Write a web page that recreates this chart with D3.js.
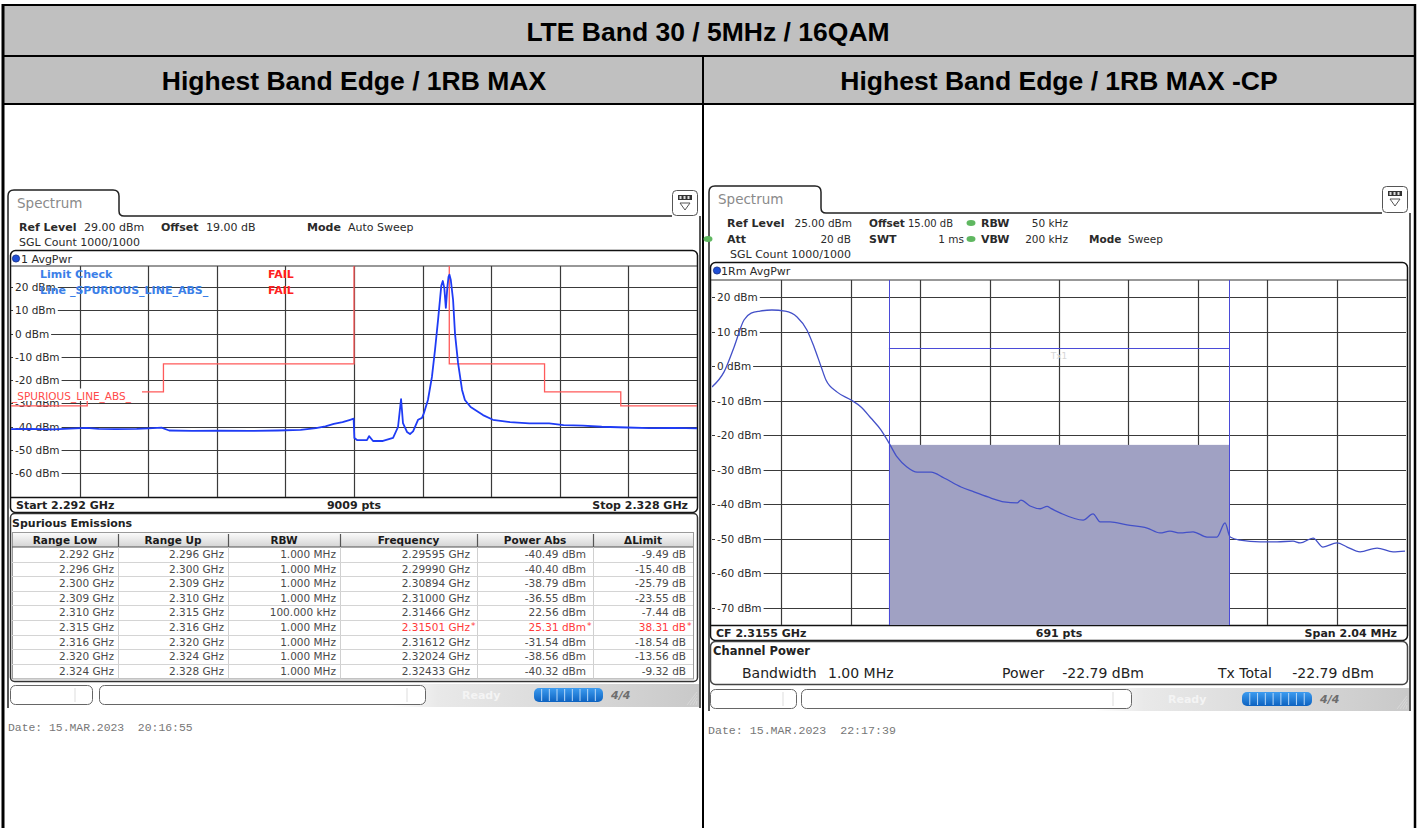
<!DOCTYPE html>
<html><head><meta charset="utf-8">
<script src="https://cdn.jsdelivr.net/npm/d3@7"></script>
<style>html,body{margin:0;padding:0;background:#fff;}svg{display:block;}text{white-space:pre;}</style>
</head><body><div id="chart"></div>
<script>
// ---------------- data ----------------
const titleText = "LTE Band 30 / 5MHz / 16QAM";
const panelTitles = ["Highest Band Edge / 1RB MAX", "Highest Band Edge / 1RB MAX -CP"];

// Left: spurious emission sweep (MHz, dBm)
const leftFreqMHz = [2292.00,2293.00,2294.20,2295.10,2295.95,2296.60,2297.50,2298.60,2299.20,2299.90,
  2300.30,2301.50,2303.00,2304.50,2306.00,2307.20,2308.00,2308.50,2308.94,2309.40,2309.80,2309.98,
  2310.02,2310.16,2310.68,2310.79,2311.00,2311.52,2312.05,2312.31,2312.47,2312.57,2312.78,2312.94,
  2313.10,2313.36,2313.57,2313.67,2313.88,2314.09,2314.25,2314.41,2314.51,2314.58,2314.66,2314.74,
  2314.82,2314.90,2314.96,2315.01,2315.08,2315.20,2315.30,2315.46,2315.67,2315.82,2316.12,2316.77,
  2317.29,2318.19,2319.20,2320.24,2321.00,2322.02,2323.00,2324.33,2325.50,2326.80,2328.00];
const leftPowerDbm = [-41.0,-40.9,-41.1,-40.8,-40.49,-40.9,-41.0,-40.9,-40.7,-40.40,
  -41.6,-41.8,-41.7,-41.8,-41.6,-41.3,-40.6,-39.8,-38.79,-38.0,-37.0,-36.55,
  -44.8,-45.7,-45.7,-44.0,-46.1,-46.1,-44.8,-40.1,-28.1,-38.4,-42.2,-43.1,
  -42.0,-37.0,-36.2,-34.1,-28.5,-18.6,-7.1,5.8,14.4,20.5,22.56,19.5,
  11.0,20.0,24.3,25.31,23.0,14.4,0.0,-12.6,-24.2,-28.5,-31.54,-35.0,
  -37.0,-38.0,-38.5,-38.56,-39.3,-39.5,-40.0,-40.32,-40.6,-40.5,-40.7];
const leftLimitEdgesMHz = [2292,2296,2300,2310,2315,2320,2324,2328];
const leftLimitDbm = [-31,-25,-13,30,-13,-25,-31];
const leftYTicks = [20,10,0,-10,-20,-30,-40,-50,-60,-70];
const leftYLabels = [20,10,0,-10,-20,-30,-40,-50,-60];

// Spurious emissions table
const spurRangeLow = ["2.292 GHz","2.296 GHz","2.300 GHz","2.309 GHz","2.310 GHz","2.315 GHz","2.316 GHz","2.320 GHz","2.324 GHz"];
const spurRangeUp  = ["2.296 GHz","2.300 GHz","2.309 GHz","2.310 GHz","2.315 GHz","2.316 GHz","2.320 GHz","2.324 GHz","2.328 GHz"];
const spurRbw      = ["1.000 MHz","1.000 MHz","1.000 MHz","1.000 MHz","100.000 kHz","1.000 MHz","1.000 MHz","1.000 MHz","1.000 MHz"];
const spurFreq     = ["2.29595 GHz","2.29990 GHz","2.30894 GHz","2.31000 GHz","2.31466 GHz","2.31501 GHz*","2.31612 GHz","2.32024 GHz","2.32433 GHz"];
const spurPower    = ["-40.49 dBm","-40.40 dBm","-38.79 dBm","-36.55 dBm","22.56 dBm","25.31 dBm*","-31.54 dBm","-38.56 dBm","-40.32 dBm"];
const spurDelta    = ["-9.49 dB","-15.40 dB","-25.79 dB","-23.55 dB","-7.44 dB","38.31 dB*","-18.54 dB","-13.56 dB","-9.32 dB"];
const spurFail     = [false,false,false,false,false,true,false,false,false];
const spurHeaders  = ["Range Low","Range Up","RBW","Frequency","Power Abs","\u0394Limit"];

// Right: channel power sweep (offset from CF in MHz, dBm)
const rightOffsetMHz = [-1.020,-0.985,-0.955,-0.926,-0.905,-0.879,-0.844,-0.805,-0.770,-0.741,-0.720,-0.699,
  -0.685,-0.652,-0.611,-0.582,-0.553,-0.523,-0.500,-0.476,-0.447,-0.417,-0.376,-0.338,-0.288,-0.250,
  -0.200,-0.162,-0.123,-0.112,-0.085,-0.055,-0.035,-0.024,0.003,0.071,0.100,0.121,0.150,0.200,0.259,
  0.297,0.326,0.356,0.394,0.435,0.464,0.488,0.503,0.532,0.591,0.641,0.688,0.709,0.747,0.776,0.817,
  0.847,0.885,0.935,0.982,1.017];
const rightPowerDbm = [-6.0,-1.7,5.6,13.4,15.4,16.0,16.3,16.0,14.3,10.5,5.6,-0.2,
  -4.0,-7.5,-9.8,-11.8,-15.0,-18.5,-22.2,-26.3,-29.2,-30.7,-30.7,-32.4,-35.0,-36.4,
  -38.2,-39.3,-39.6,-38.8,-40.5,-41.3,-40.6,-41.2,-42.5,-44.6,-42.8,-45.1,-45.1,-46.0,-46.9,
  -48.3,-47.8,-48.3,-48.0,-49.5,-49.5,-45.4,-49.5,-50.4,-50.9,-50.9,-50.7,-51.2,-49.8,-52.4,-51.2,
  -52.4,-53.8,-52.7,-53.8,-53.6];
const rightYLabels = [20,10,0,-10,-20,-30,-40,-50,-60,-70];
const channelBwMHz = 1.00;
const channelPowerDbm = -22.79;
const txBarDbm = 5.3;

// ---------------- setup ----------------
const W = 1419, H = 828;
const svg = d3.select("#chart").append("svg").attr("width", W).attr("height", H);
svg.append("rect").attr("width", W).attr("height", H).attr("fill", "#fff");
const defs = svg.append("defs");

function lin(id, x2, y2, stops) {
  const g = defs.append("linearGradient").attr("id", id).attr("x1", 0).attr("y1", 0).attr("x2", x2).attr("y2", y2);
  stops.forEach(s => g.append("stop").attr("offset", s[0]).attr("stop-color", s[1]));
}
lin("gHead", 0, 1, [[0, "#fdfdfd"], [1, "#d4d4d4"]]);
lin("gStatus", 1, 0, [[0, "#ffffff"], [0.55, "#ffffff"], [0.62, "#e9e9e9"], [1, "#c9c9c9"]]);
lin("gProg", 0, 1, [[0, "#3d9cf0"], [1, "#0d62c0"]]);

function T(g, x, y, s, o = {}) {
  return g.append("text").attr("x", x).attr("y", y).text(s)
    .attr("font-family", o.ff || "DejaVu Sans").attr("font-size", o.fs || 11)
    .attr("font-weight", o.fw || "normal").attr("fill", o.c || "#2a2a2a")
    .attr("text-anchor", o.a || "start");
}

// ---------------- outer document table ----------------
const tbl = svg.append("g");
tbl.append("rect").attr("x", 3).attr("y", 5).attr("width", 1413).attr("height", 99).attr("fill", "#c0c0c0");
[[3, 5, 1416, 5], [3, 56, 1416, 56], [3, 104, 1416, 104]].forEach(l =>
  tbl.append("line").attr("x1", l[0]).attr("y1", l[1]).attr("x2", l[2]).attr("y2", l[3]).attr("stroke", "#000").attr("stroke-width", 2));
tbl.append("line").attr("x1", 3).attr("y1", 4).attr("x2", 3).attr("y2", 828).attr("stroke", "#000").attr("stroke-width", 3);
tbl.append("line").attr("x1", 1415).attr("y1", 4).attr("x2", 1415).attr("y2", 828).attr("stroke", "#000").attr("stroke-width", 2.5);
tbl.append("line").attr("x1", 703).attr("y1", 56).attr("x2", 703).attr("y2", 828).attr("stroke", "#000").attr("stroke-width", 2);
T(tbl, 708, 41, titleText, { ff: "Liberation Sans", fs: 26.5, fw: "bold", c: "#000", a: "middle" });
T(tbl, 354, 90, panelTitles[0], { ff: "Liberation Sans", fs: 26.5, fw: "bold", c: "#000", a: "middle" });
T(tbl, 1059, 90, panelTitles[1], { ff: "Liberation Sans", fs: 26.5, fw: "bold", c: "#000", a: "middle" });

// ---------------- common chrome ----------------
function chrome(g, x0, x1, tabTop, lineY, tabRight, iconX, bottom) {
  g.append("path").attr("d",
    `M${x0},${lineY} V${tabTop + 6} Q${x0},${tabTop} ${x0 + 6},${tabTop} H${tabRight - 6} Q${tabRight},${tabTop} ${tabRight},${tabTop + 6} V${lineY - 5} Q${tabRight},${lineY} ${tabRight + 5},${lineY} H${iconX}`)
    .attr("fill", "none").attr("stroke", "#222").attr("stroke-width", 1.5);
  g.append("line").attr("x1", x0).attr("y1", lineY).attr("x2", x0).attr("y2", bottom).attr("stroke", "#222").attr("stroke-width", 1.5);
  g.append("line").attr("x1", x1).attr("y1", lineY).attr("x2", x1).attr("y2", bottom).attr("stroke", "#222").attr("stroke-width", 1.5);
  T(g, x0 + 9, tabTop + 18, "Spectrum", { fs: 13.5, c: "#8a8a8a" });
  const ic = g.append("g").attr("transform", `translate(${iconX},${tabTop})`);
  ic.append("rect").attr("x", 0.5).attr("y", 0.5).attr("width", 25).attr("height", lineY - tabTop - 1).attr("rx", 4)
    .attr("fill", "#fff").attr("stroke", "#555").attr("stroke-width", 1);
  ic.append("rect").attr("x", 6).attr("y", 5).attr("width", 14).attr("height", 5).attr("fill", "#333");
  [9, 13, 17].forEach(x => ic.append("rect").attr("x", x - 1.5).attr("y", 6).attr("width", 2).attr("height", 3).attr("fill", "#ddd"));
  ic.append("path").attr("d", "M8,13 L18,13 L13,20 Z").attr("fill", "none").attr("stroke", "#555").attr("stroke-width", 1);
}

function statusBar(g, x0, x1, y0, h, box1, box2, readyX, prog, iconX) {
  g.append("rect").attr("x", x0).attr("y", y0).attr("width", x1 - x0).attr("height", h).attr("fill", "url(#gStatus)");
  [box1, box2].forEach(b => {
    g.append("rect").attr("x", b[0] + 0.5).attr("y", y0 + 1.5).attr("width", b[1] - b[0]).attr("height", h - 4).attr("rx", 5)
      .attr("fill", "#fff").attr("stroke", "#666").attr("stroke-width", 1);
    g.append("line").attr("x1", b[2]).attr("x2", b[2]).attr("y1", y0 + 4).attr("y2", y0 + h - 5).attr("stroke", "#ddd");
  });
  T(g, readyX, y0 + 15, "Ready", { fs: 11, fw: "bold", c: "#f4f4f4" });
  g.append("rect").attr("x", prog[0]).attr("y", y0 + 4).attr("width", prog[1] - prog[0]).attr("height", h - 9).attr("rx", 5).attr("fill", "url(#gProg)");
  d3.range(1, 9).forEach(i => {
    const xx = prog[0] + i * (prog[1] - prog[0]) / 9;
    g.append("line").attr("x1", xx).attr("x2", xx).attr("y1", y0 + 5).attr("y2", y0 + h - 6).attr("stroke", "#b8d8f8").attr("stroke-width", 1);
  });
  T(g, iconX, y0 + 15, "4/4", { fs: 11, fw: "bold", c: "#555" }).attr("font-style", "italic").attr("opacity", 0.8);
  for (let k = 0; k < 4; k++) {
    g.append("line").attr("x1", x1 - 12 + k * 3).attr("y1", y0 + h - 2).attr("x2", x1 - 2).attr("y2", y0 + 8 + k * 3).attr("stroke", "#d8d8d8");
  }
}

function yLabels(g, ticks, yS, x, fs) {
  ticks.forEach(v => {
    const t = T(g, x, yS(v) + 4, v + " dBm", { fs: fs, c: "#2a2a2a" });
    const w = t.node().getComputedTextLength();
    g.insert("rect", () => t.node()).attr("x", x - 2).attr("y", yS(v) - 6).attr("width", w + 4).attr("height", 12).attr("fill", "#fff");
  });
}

// ======================= LEFT PANEL =======================
const L = svg.append("g");
chrome(L, 8, 700, 190, 216, 119, 672, 708);
const xL = d3.scaleLinear().domain([leftLimitEdgesMHz[0], leftLimitEdgesMHz[leftLimitEdgesMHz.length - 1]]).range([11, 697]);
const yL = d3.scaleLinear().domain([-71, 29]).range([499, 266]);

T(L, 19, 231, "Ref Level", { fw: "bold" }); T(L, 84, 231, "29.00 dBm");
T(L, 161, 231, "Offset", { fw: "bold" }); T(L, 206, 231, "19.00 dB");
T(L, 307, 231, "Mode", { fw: "bold" }); T(L, 348, 231, "Auto Sweep");
T(L, 19, 246, "SGL Count 1000/1000");

L.append("rect").attr("x", 10.5).attr("y", 250.5).attr("width", 687).attr("height", 262).attr("rx", 5)
  .attr("fill", "#fff").attr("stroke", "#111").attr("stroke-width", 1.5);
L.append("circle").attr("cx", 16).attr("cy", 258.5).attr("r", 3.6).attr("fill", "#1f4fd6").attr("stroke", "#102a80").attr("stroke-width", 0.8);
T(L, 21, 262.5, "1 AvgPwr", { fs: 11 });
L.append("line").attr("x1", 11).attr("x2", 697).attr("y1", 266).attr("y2", 266).attr("stroke", "#333").attr("stroke-width", 1.2);
L.append("line").attr("x1", 11).attr("x2", 697).attr("y1", 497.5).attr("y2", 497.5).attr("stroke", "#111").attr("stroke-width", 1.5);

defs.append("clipPath").attr("id", "clipL").append("rect").attr("x", 11).attr("y", 266).attr("width", 686).attr("height", 231);
const gL = L.append("g").attr("clip-path", "url(#clipL)");
const spanL = xL.domain()[1] - xL.domain()[0];
d3.range(1, 10).forEach(i => {
  const xx = Math.round(xL(xL.domain()[0] + i * spanL / 10)) + 0.5;
  gL.append("line").attr("x1", xx).attr("x2", xx).attr("y1", 266).attr("y2", 497).attr("stroke", "#3a3a3a").attr("stroke-width", 1.2);
});
leftYTicks.forEach(v => {
  const yy = Math.round(yL(v)) + 0.5;
  gL.append("line").attr("x1", 11).attr("x2", 697).attr("y1", yy).attr("y2", yy).attr("stroke", "#3a3a3a").attr("stroke-width", 1.2);
});
yLabels(gL, leftYLabels, yL, 15, 10.5);

const limPts = [];
leftLimitDbm.forEach((v, i) => { limPts.push([leftLimitEdgesMHz[i], v]); limPts.push([leftLimitEdgesMHz[i + 1], v]); });
gL.append("path").attr("d", d3.line().x(d => xL(d[0])).y(d => yL(d[1]))(limPts))
  .attr("fill", "none").attr("stroke", "#ff5a5a").attr("stroke-width", 1.3);
gL.append("rect").attr("x", 12).attr("y", 388.5).attr("width", 130).attr("height", 12.5).attr("fill", "#fff");
T(gL, 12, 400, "_SPURIOUS_LINE_ABS_", { fs: 10.5, c: "#ff4a4a" });

gL.append("path").attr("d", d3.line().x((d, i) => xL(leftFreqMHz[i])).y(d => yL(d))(leftPowerDbm))
  .attr("fill", "none").attr("stroke", "#1f3cf5").attr("stroke-width", 1.8).attr("stroke-linejoin", "round");

T(L, 40, 278, "Limit Check", { fw: "bold", c: "#3b7fe8" });
T(L, 268, 278, "FAIL", { fw: "bold", c: "#ff2020" });
T(L, 40, 293.5, "Line _SPURIOUS_LINE_ABS_", { fw: "bold", c: "#3b7fe8" });
T(L, 268, 293.5, "FAIL", { fw: "bold", c: "#ff2020" });

T(L, 16, 509, "Start 2.292 GHz", { fw: "bold", c: "#222" });
T(L, (xL.range()[0] + xL.range()[1]) / 2, 509, "9009 pts", { fw: "bold", c: "#222", a: "middle" });
T(L, 688, 509, "Stop 2.328 GHz", { fw: "bold", c: "#222", a: "end" });

L.append("rect").attr("x", 10.5).attr("y", 513.5).attr("width", 687).attr("height", 168).attr("rx", 4)
  .attr("fill", "#fff").attr("stroke", "#333").attr("stroke-width", 1.5);
T(L, 12, 527, "Spurious Emissions", { fw: "bold", c: "#222" });
const colX = [12, 118, 228, 340, 477, 593, 693];
const hdrTop = 532, hdrH = 15, rowTop = 547, rowH = 14.6;
L.append("rect").attr("x", colX[0]).attr("y", hdrTop).attr("width", colX[6] - colX[0]).attr("height", hdrH).attr("fill", "url(#gHead)");
L.append("rect").attr("x", colX[0] + 0.5).attr("y", hdrTop + 0.5).attr("width", colX[6] - colX[0]).attr("height", hdrH + 9 * rowH)
  .attr("fill", "none").attr("stroke", "#9a9a9a").attr("stroke-width", 1);
L.append("line").attr("x1", colX[0]).attr("x2", colX[6]).attr("y1", rowTop).attr("y2", rowTop).attr("stroke", "#555").attr("stroke-width", 1.2);
spurHeaders.forEach((h, i) => {
  T(L, (colX[i] + colX[i + 1]) / 2, hdrTop + 11.5, h, { fw: "bold", fs: 10.5, c: "#1a1a1a", a: "middle" });
  if (i > 0) L.append("line").attr("x1", colX[i] + 0.5).attr("x2", colX[i] + 0.5).attr("y1", hdrTop + 2).attr("y2", hdrTop + hdrH)
    .attr("stroke", "#555").attr("stroke-width", 1.2);
});
d3.range(1, 6).forEach(i => L.append("line").attr("x1", colX[i] + 0.5).attr("x2", colX[i] + 0.5)
  .attr("y1", rowTop).attr("y2", rowTop + 9 * rowH).attr("stroke", "#d0d0d0"));
const cols = [spurRangeLow, spurRangeUp, spurRbw, spurFreq, spurPower, spurDelta];
spurRangeLow.forEach((_, r) => {
  const yTop = rowTop + r * rowH;
  if (r > 0) L.append("line").attr("x1", colX[0]).attr("x2", colX[6]).attr("y1", Math.round(yTop) + 0.5).attr("y2", Math.round(yTop) + 0.5).attr("stroke", "#d4d4d4");
  cols.forEach((c, i) => {
    const fail = spurFail[r];
    const star = fail && i >= 3;
    const s = star ? c[r].replace("*", "") : c[r];
    const xr = colX[i + 1] - (i < 3 ? 4 : 7);
    T(L, xr, yTop + 11, s, { fs: 10.5, c: fail && i >= 3 ? "#ff3a3a" : "#4a4a4a", a: "end" });
    if (star) T(L, xr + 1, yTop + 9, "*", { fs: 9, c: "#ff3a3a" });
  });
});
statusBar(L, 10, 699, 684, 23, [10, 92, 75], [99, 425, 407], 462, [534, 603], 611);
T(L, 8, 731, "Date: 15.MAR.2023  20:16:55", { ff: "Liberation Mono", fs: 11.4, c: "#777" });

// ======================= RIGHT PANEL =======================
const R = svg.append("g");
chrome(R, 709, 1410, 186, 213, 821, 1382, 711);
const xR = d3.scaleLinear().domain([rightOffsetMHz[0], -rightOffsetMHz[0]]).range([712, 1406]);
const yR = d3.scaleLinear().domain([-75, 25]).range([625, 280]);

T(R, 727, 227, "Ref Level", { fw: "bold" }); T(R, 852, 227, "25.00 dBm", { a: "end", fs: 10.5 });
T(R, 869, 227, "Offset", { fw: "bold", fs: 10.5 }); T(R, 953, 227, "15.00 dB", { a: "end", fs: 10 });
T(R, 981, 227, "RBW", { fw: "bold" }); T(R, 1068, 227, "50 kHz", { a: "end", fs: 10.5 });
T(R, 727, 243, "Att", { fw: "bold" }); T(R, 851, 243, "20 dB", { a: "end", fs: 10.5 });
T(R, 869, 243, "SWT", { fw: "bold" }); T(R, 964, 243, "1 ms", { a: "end", fs: 10.5 });
T(R, 981, 243, "VBW", { fw: "bold" }); T(R, 1068, 243, "200 kHz", { a: "end", fs: 10.5 });
T(R, 1089, 243, "Mode", { fw: "bold", fs: 10.5 }); T(R, 1128, 243, "Sweep", { fs: 10.5 });
T(R, 730, 258, "SGL Count 1000/1000");
[[708, 239], [971, 223], [971, 239]].forEach(p =>
  R.append("ellipse").attr("cx", p[0]).attr("cy", p[1]).attr("rx", 4.5).attr("ry", 3).attr("fill", "#5fb760"));

R.append("rect").attr("x", 710.5).attr("y", 262.5).attr("width", 697).attr("height", 378).attr("rx", 5)
  .attr("fill", "#fff").attr("stroke", "#111").attr("stroke-width", 1.5);
R.append("circle").attr("cx", 717).attr("cy", 270.5).attr("r", 3.6).attr("fill", "#1f4fd6").attr("stroke", "#102a80").attr("stroke-width", 0.8);
T(R, 721, 274.5, "1Rm AvgPwr", { fs: 11 });
R.append("line").attr("x1", 711).attr("x2", 1407).attr("y1", 280).attr("y2", 280).attr("stroke", "#333").attr("stroke-width", 1.2);
R.append("line").attr("x1", 711).attr("x2", 1407).attr("y1", 625.5).attr("y2", 625.5).attr("stroke", "#111").attr("stroke-width", 1.5);

defs.append("clipPath").attr("id", "clipR").append("rect").attr("x", 712).attr("y", 280).attr("width", 694).attr("height", 345);
const gR = R.append("g").attr("clip-path", "url(#clipR)");
const spanR = xR.domain()[1] - xR.domain()[0];
d3.range(1, 10).forEach(i => {
  const xx = Math.round(xR(xR.domain()[0] + i * spanR / 10)) + 0.5;
  gR.append("line").attr("x1", xx).attr("x2", xx).attr("y1", 280).attr("y2", 625).attr("stroke", "#3a3a3a").attr("stroke-width", 1.2);
});
rightYLabels.forEach(v => {
  const yy = Math.round(yR(v)) + 0.5;
  gR.append("line").attr("x1", 712).attr("x2", 1406).attr("y1", yy).attr("y2", yy).attr("stroke", "#3a3a3a").attr("stroke-width", 1.2);
});
yLabels(gR, rightYLabels, yR, 717, 10.5);

gR.append("rect").attr("x", xR(-channelBwMHz / 2)).attr("y", yR(channelPowerDbm))
  .attr("width", xR(channelBwMHz / 2) - xR(-channelBwMHz / 2)).attr("height", yR(-75) - yR(channelPowerDbm))
  .attr("fill", "#a0a1c3");
[-channelBwMHz / 2, channelBwMHz / 2].forEach(v => {
  const xx = Math.round(xR(v)) + 0.5;
  gR.append("line").attr("x1", xx).attr("x2", xx).attr("y1", 280).attr("y2", 625).attr("stroke", "#4b4bd8").attr("stroke-width", 1);
});
gR.append("line").attr("x1", xR(-channelBwMHz / 2)).attr("x2", xR(channelBwMHz / 2))
  .attr("y1", Math.round(yR(txBarDbm)) + 0.5).attr("y2", Math.round(yR(txBarDbm)) + 0.5).attr("stroke", "#4b4bd8").attr("stroke-width", 1);
T(gR, xR(0), yR(txBarDbm) + 11, "Tx1", { fs: 9, c: "#d6d6d6", a: "middle" });

gR.append("path").attr("d", d3.line().curve(d3.curveMonotoneX).x((d, i) => xR(rightOffsetMHz[i])).y(d => yR(d))(rightPowerDbm))
  .attr("fill", "none").attr("stroke", "#4350c8").attr("stroke-width", 1.3);

T(R, 716, 637, "CF 2.3155 GHz", { fw: "bold", c: "#222" });
T(R, (xR.range()[0] + xR.range()[1]) / 2, 637, "691 pts", { fw: "bold", c: "#222", a: "middle" });
T(R, 1397, 637, "Span 2.04 MHz", { fw: "bold", c: "#222", a: "end" });

R.append("rect").attr("x", 710.5).attr("y", 641.5).attr("width", 697).attr("height", 43).attr("rx", 5)
  .attr("fill", "#fff").attr("stroke", "#444").attr("stroke-width", 1.5);
T(R, 713, 655, "Channel Power", { fw: "bold", fs: 11.5, c: "#222" });
T(R, 742, 678, "Bandwidth", { fs: 14, c: "#222" });
T(R, 828, 678, "1.00 MHz", { fs: 14, c: "#222" });
T(R, 1002, 678, "Power", { fs: 14, c: "#222" });
T(R, 1144, 678, channelPowerDbm.toFixed(2) + " dBm", { fs: 14, c: "#222", a: "end" });
T(R, 1218, 678, "Tx Total", { fs: 14, c: "#222" });
T(R, 1374, 678, channelPowerDbm.toFixed(2) + " dBm", { fs: 14, c: "#222", a: "end" });

statusBar(R, 710, 1409, 688, 23, [710, 796, 783], [801, 1131, 1113], 1168, [1242, 1312], 1320);
T(R, 708, 734, "Date: 15.MAR.2023  22:17:39", { ff: "Liberation Mono", fs: 11.6, c: "#777" });
</script>
</body></html>
